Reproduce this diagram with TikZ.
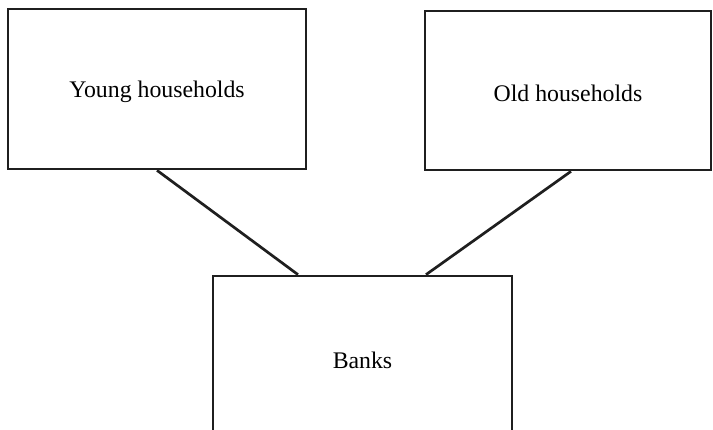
\documentclass[tikz,border=0pt]{standalone}
\usepackage{fontspec}
\setmainfont{Liberation Serif}
\begin{document}
\begin{tikzpicture}[x=1pt,y=1pt,
  agent/.style={draw=black!88, line width=2.7pt, rectangle, inner sep=0pt},
  label/.style={font=\fontsize{23.8}{27}\selectfont},
  link/.style={draw=black!88, line width=2.7pt}]
\useasboundingbox (0,0) rectangle (713,430);
\clip (0,0) rectangle (713,430);
\node[agent, minimum width=298pt, minimum height=160pt] (young) at (157,341) {};
\node[agent, minimum width=286pt, minimum height=159pt] (old) at (568,339.5) {};
\node[agent, minimum width=299pt, minimum height=164pt] (banks) at (362.5,72) {};
\node[label] (younglabel) at (157,338) {Young households};
\node[label] (oldlabel) at (568,337) {Old households};
\node[label] (bankslabel) at (362.5,70) {Banks};
\draw[link] (young.south) -- ([xshift=-64.5pt]banks.north);
\draw[link] ([xshift=3pt]old.south) -- ([xshift=63.5pt]banks.north);
\end{tikzpicture}
\end{document}
